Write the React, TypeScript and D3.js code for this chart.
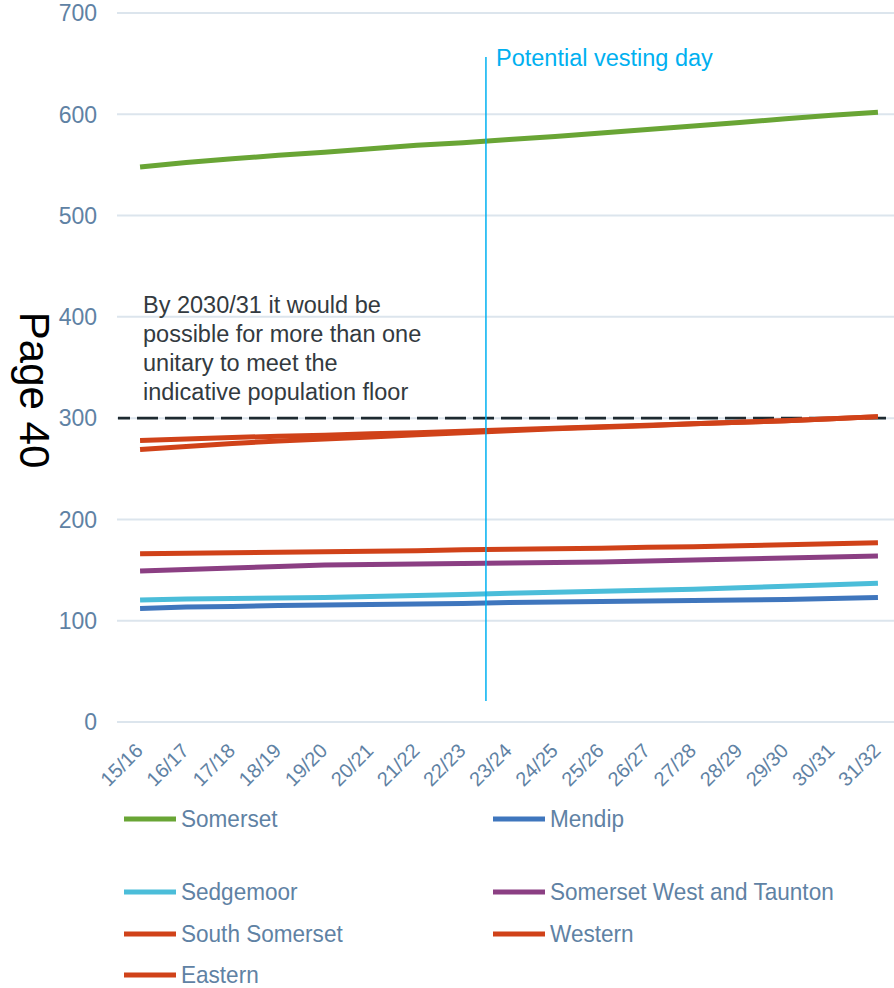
import React from "react";
import * as d3 from "d3";

const years = ["15/16","16/17","17/18","18/19","19/20","20/21","21/22","22/23","23/24","24/25","25/26","26/27","27/28","28/29","29/30","30/31","31/32"];
const somerset = [548, 552.5, 556, 559.5, 562.5, 566, 569.5, 572, 575, 578, 581.5, 585, 588.5, 592, 595.5, 599, 602];
const mendip = [112, 113.5, 114, 115, 115.5, 116, 116.5, 117, 118, 118.5, 119, 119.5, 120, 120.5, 121, 122, 123];
const sedgemoor = [120.5, 121.5, 122, 122.5, 123, 124, 125, 126, 127, 128, 129, 130, 131, 132.5, 134, 135.5, 137];
const swt = [149, 150.5, 152, 153.5, 155, 155.5, 156, 156.5, 157, 157.5, 158, 159, 160, 161, 162, 163, 164];
const southSomerset = [166, 166.5, 167, 167.5, 168, 168.5, 169, 170, 170.5, 171, 171.5, 172.5, 173, 174, 175, 176, 177];
const western = [269, 272, 275, 277.5, 279.5, 281.5, 283.5, 285.5, 287.5, 289.5, 291, 292.5, 294.5, 296, 297.5, 299.5, 301.5];
const eastern = [278, 279.5, 281, 282, 283, 284.5, 285.5, 287, 288.5, 290, 291.5, 293, 294.5, 296, 297.5, 299.5, 301.5];
const yTicks = [0, 100, 200, 300, 400, 500, 600, 700];
const floorValue = 300;
const vestingYear = "23/24";
const annotation = ["By 2030/31 it would be", "possible for more than one", "unitary to meet the", "indicative population floor"];

const series = [
  { name: "Somerset", values: somerset, color: "#69a535" },
  { name: "Mendip", values: mendip, color: "#3f76bd" },
  { name: "Sedgemoor", values: sedgemoor, color: "#4bbdd9" },
  { name: "Somerset West and Taunton", values: swt, color: "#8b3f83" },
  { name: "South Somerset", values: southSomerset, color: "#d04219" },
  { name: "Western", values: western, color: "#d04219" },
  { name: "Eastern", values: eastern, color: "#d04219" },
];

const legendPos = [
  [124, 819], [493, 819],
  [124, 892], [493, 892],
  [124, 934], [493, 934],
  [124, 975],
];

const axisColor = "#5f82a4";
const font = "Liberation Sans, Arial, sans-serif";

export default function App() {
  const W = 894, H = 988;
  const x = d3.scaleBand<string>().domain(years).range([117, 901]);
  const bw = x.bandwidth();
  const cx = (d: string) => (x(d) as number) + bw / 2;
  const y = d3.scaleLinear().domain([0, 700]).range([722, 13]);
  const line = d3.line<number>().x((_, i) => cx(years[i])).y((v) => y(v));
  const vx = x(vestingYear) as number;

  return (
    <div style={{ position: "absolute", left: 0, top: 0 }}>
      <svg width={W} height={H} style={{ display: "block", fontFamily: font }}>
        <rect width={W} height={H} fill="#fff" />
        {yTicks.map((t) => (
          <g key={t}>
            <line x1={117} x2={894} y1={y(t)} y2={y(t)} stroke="#dce5ed" strokeWidth={2} />
            <text x={97} y={y(t)} dy="0.36em" textAnchor="end" fontSize={23} fill={axisColor}>{t}</text>
          </g>
        ))}
        {years.map((d) => (
          <text key={d} transform={`translate(${cx(d) + 4},${752}) rotate(-45)`} textAnchor="end" fontSize={20} fill={axisColor}>{d}</text>
        ))}
        <line x1={118} x2={886} y1={y(floorValue)} y2={y(floorValue)} stroke="#1e2a30" strokeWidth={2.7} strokeDasharray="21 7" strokeDashoffset={9} />
        {series.slice().reverse().map((s) => (
          <path key={s.name} d={line(s.values) as string} fill="none" stroke={s.color} strokeWidth={5} />
        ))}
        <line x1={vx} x2={vx} y1={57} y2={701} stroke="#00b0f0" strokeWidth={1.5} />
        <text x={496} y={66} fontSize={23.5} fill="#00b0f0">Potential vesting day</text>
        {annotation.map((t, i) => (
          <text key={i} x={143} y={313 + i * 29} fontSize={23.5} fill="#333a40">{t}</text>
        ))}
        <text transform="translate(20,390) rotate(90)" textAnchor="middle" fontSize={42} fill="#000">Page 40</text>
        {series.map((s, i) => (
          <g key={s.name}>
            <line x1={legendPos[i][0]} x2={legendPos[i][0] + 52} y1={legendPos[i][1]} y2={legendPos[i][1]} stroke={s.color} strokeWidth={5} />
            <text transform={`translate(${legendPos[i][0] + 57},${legendPos[i][1]}) scale(0.94,1)`} dy="0.35em" fontSize={24} fill={axisColor}>{s.name}</text>
          </g>
        ))}
      </svg>
    </div>
  );
}
